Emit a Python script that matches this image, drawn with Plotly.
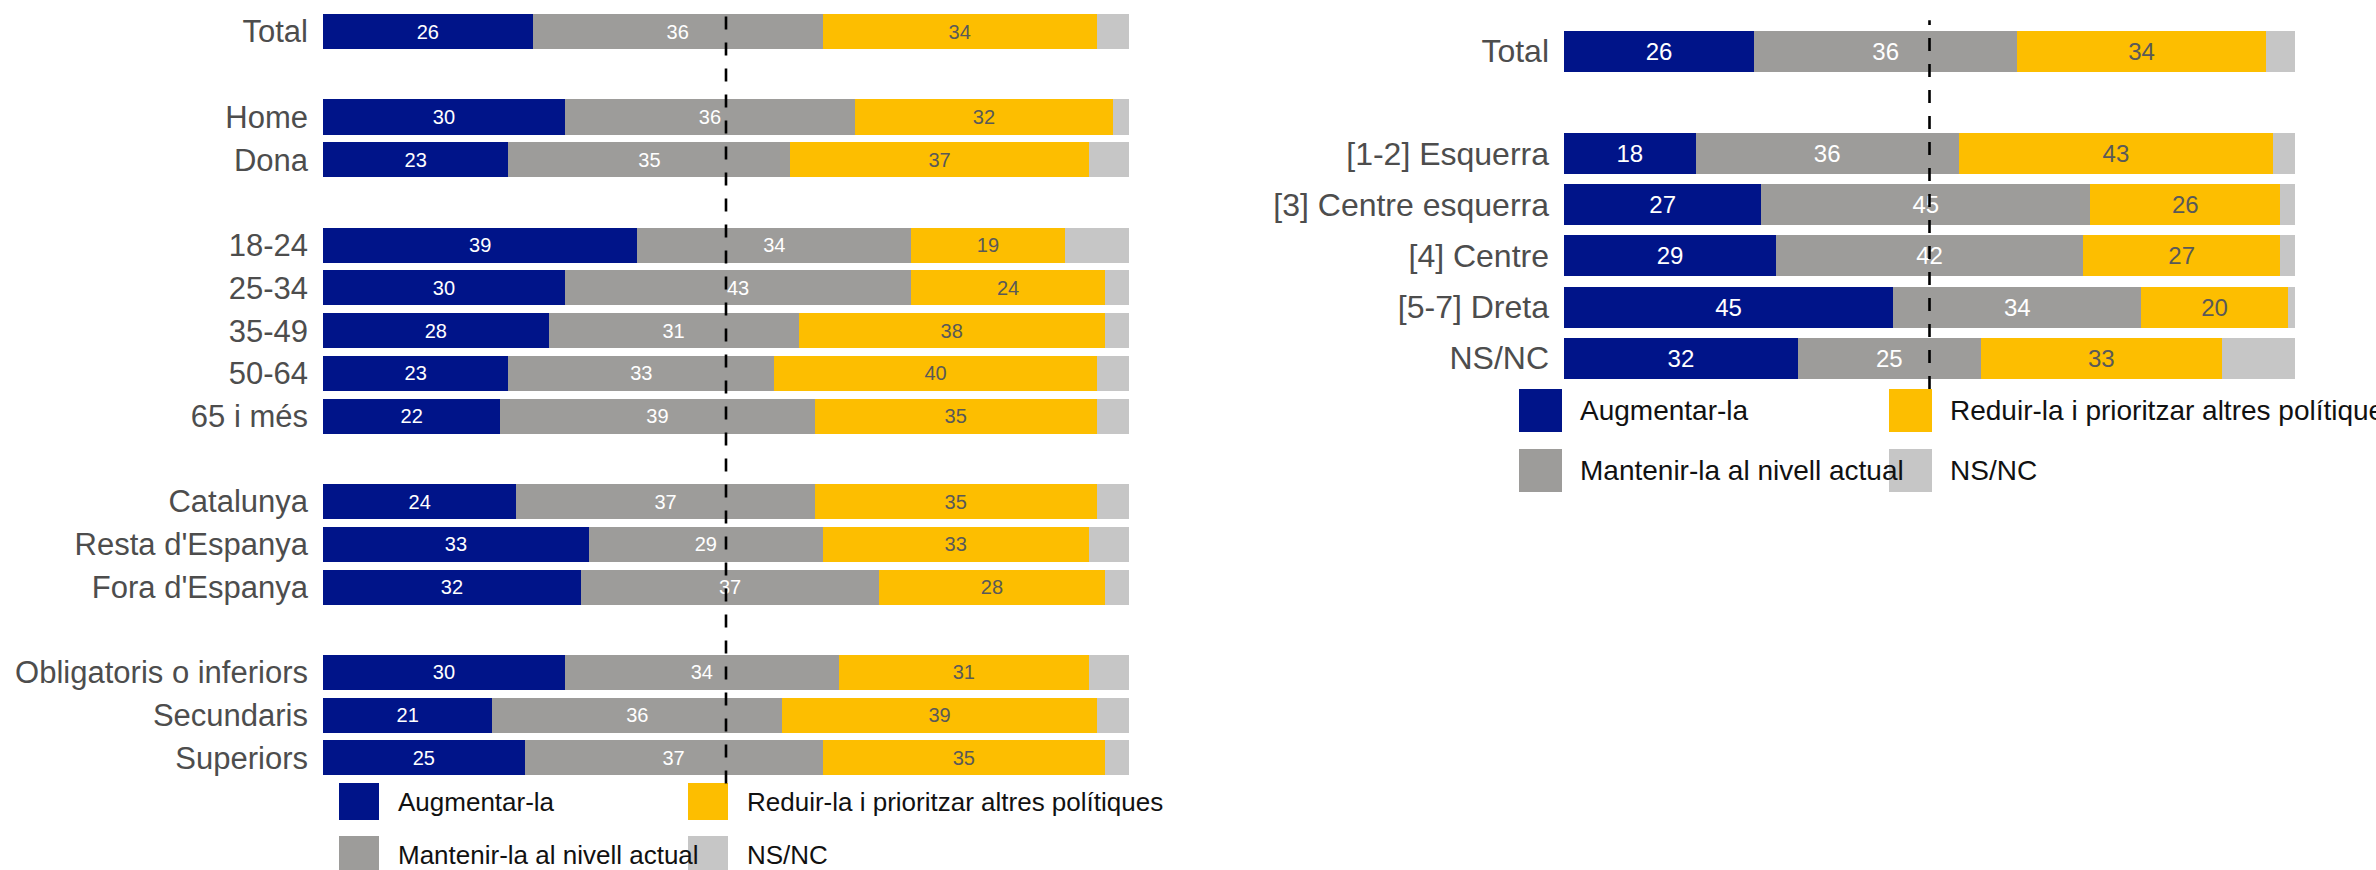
"""Stacked opinion bars by profile and by ideology."""

import plotly.graph_objects as go

FONT = "Liberation Sans, Arial, sans-serif"
WIDTH, HEIGHT = 2376, 870

SERIES = ["Augmentar-la", "Mantenir-la al nivell actual", "Reduir-la i prioritzar altres polítiques", "NS/NC"]
COLORS = ["#001489", "#9D9C9A", "#FDBE00", "#C6C6C6"]
TEXT_COLORS = ["#FFFFFF", "#FFFFFF", "#595959", None]

# left panel: groups separated by an empty row
LEFT_GROUPS = [
    ["Total"],
    ["Home", "Dona"],
    ["18-24", "25-34", "35-49", "50-64", "65 i més"],
    ["Catalunya", "Resta d'Espanya", "Fora d'Espanya"],
    ["Obligatoris o inferiors", "Secundaris", "Superiors"],
]
LEFT_AUGMENTAR = [26, 30, 23, 39, 30, 28, 23, 22, 24, 33, 32, 30, 21, 25]
LEFT_MANTENIR = [36, 36, 35, 34, 43, 31, 33, 39, 37, 29, 37, 34, 36, 37]
LEFT_REDUIR = [34, 32, 37, 19, 24, 38, 40, 35, 35, 33, 28, 31, 39, 35]
LEFT_NSNC = [4, 2, 5, 8, 3, 3, 4, 4, 4, 5, 3, 5, 4, 3]

# right panel: ideology scale
RIGHT_GROUPS = [
    ["Total"],
    ["[1-2] Esquerra", "[3] Centre esquerra", "[4] Centre", "[5-7] Dreta", "NS/NC"],
]
RIGHT_AUGMENTAR = [26, 18, 27, 29, 45, 32]
RIGHT_MANTENIR = [36, 36, 45, 42, 34, 25]
RIGHT_REDUIR = [34, 43, 26, 27, 20, 33]
RIGHT_NSNC = [4, 3, 2, 2, 1, 10]

REFERENCE_LINE = 50


def px_x(p):
    return p / WIDTH


def px_y(p):
    return 1 - p / HEIGHT


def category_order(groups):
    order = []
    for i, group in enumerate(groups):
        if i:
            order.append(" " * i)  # blank spacer row
        order.extend(group)
    return order


def add_panel(fig, groups, series_values, axis, label_size, text_size, bar_width):
    labels = [label for group in groups for label in group]
    for name, values, color, text_color in zip(SERIES, series_values, COLORS, TEXT_COLORS):
        fig.add_trace(
            go.Bar(
                x=values,
                y=labels,
                orientation="h",
                name=name,
                marker={"color": color, "line": {"width": 0}},
                width=bar_width,
                text=[str(v) for v in values] if text_color else None,
                textposition="inside" if text_color else "none",
                insidetextanchor="middle",
                textangle=0,
                textfont={"color": text_color or "#000", "size": text_size, "family": FONT},
                xaxis="x" + axis,
                yaxis="y" + axis,
                showlegend=False,
                hovertemplate="%{y}<br>" + name + ": %{x}<extra></extra>",
            )
        )
    order = category_order(groups)
    ykey = "yaxis" + axis
    fig.layout[ykey].update(
        type="category",
        categoryorder="array",
        categoryarray=order,
        range=[len(order) - 1 + 0.6, -0.6],
        showgrid=False,
        zeroline=False,
        showline=False,
        ticks="",
        ticklabelstandoff=14,
        tickfont={"size": label_size, "color": "#4D4D4D", "family": FONT},
    )
    fig.add_shape(
        type="line",
        xref="x" + axis,
        yref="y" + axis + " domain",
        x0=REFERENCE_LINE,
        x1=REFERENCE_LINE,
        y0=0,
        y1=1,
        line={"color": "#000000", "width": 2.6, "dash": "13px,13px"},
        layer="above",
    )


def add_legend(fig, col_x, row_y, box_w, box_h, text_gap, font_size):
    # two columns, two rows: Augmentar / Reduir, Mantenir / NS/NC
    slots = [(0, 0), (1, 0), (0, 1), (1, 1)]
    for (row, col), name, color in zip(slots, SERIES, COLORS):
        x0, y0 = col_x[col], row_y[row]
        fig.add_shape(
            type="rect",
            xref="paper",
            yref="paper",
            x0=px_x(x0),
            x1=px_x(x0 + box_w),
            y0=px_y(y0),
            y1=px_y(y0 + box_h),
            fillcolor=color,
            line={"width": 0},
            layer="below",
        )
        fig.add_annotation(
            xref="paper",
            yref="paper",
            x=px_x(x0 + box_w + text_gap),
            y=px_y(y0 + box_h / 2),
            xanchor="left",
            yanchor="middle",
            text=name,
            showarrow=False,
            font={"size": font_size, "color": "#111111", "family": FONT},
        )


fig = go.Figure()
fig.update_layout(
    width=WIDTH,
    height=HEIGHT,
    autosize=False,
    margin={"l": 0, "r": 0, "t": 0, "b": 0},
    paper_bgcolor="white",
    plot_bgcolor="white",
    barmode="stack",
    showlegend=False,
    font={"family": FONT},
    xaxis={"domain": [px_x(323), px_x(1129)], "range": [0, 100], "visible": False},
    yaxis={"domain": [px_y(783.6), px_y(5.9)], "anchor": "x"},
    xaxis2={"domain": [px_x(1564), px_x(2295)], "range": [0, 100], "visible": False, "anchor": "y2"},
    yaxis2={"domain": [px_y(389), px_y(20.3)], "anchor": "x2"},
)

add_panel(fig, LEFT_GROUPS, [LEFT_AUGMENTAR, LEFT_MANTENIR, LEFT_REDUIR, LEFT_NSNC], "", 31, 20, 0.82)
add_panel(fig, RIGHT_GROUPS, [RIGHT_AUGMENTAR, RIGHT_MANTENIR, RIGHT_REDUIR, RIGHT_NSNC], "2", 32, 24, 0.8)

add_legend(fig, col_x=[339, 688], row_y=[783, 836], box_w=40, box_h=37, text_gap=17, font_size=26)
add_legend(fig, col_x=[1519, 1889], row_y=[389, 449], box_w=43, box_h=43, text_gap=16, font_size=28)

# the page's default body margin would offset the figure inside the window
fig.write_html(
    "out.html",
    config={"displayModeBar": False},
    post_script="document.body.style.margin = '0px';",
)
